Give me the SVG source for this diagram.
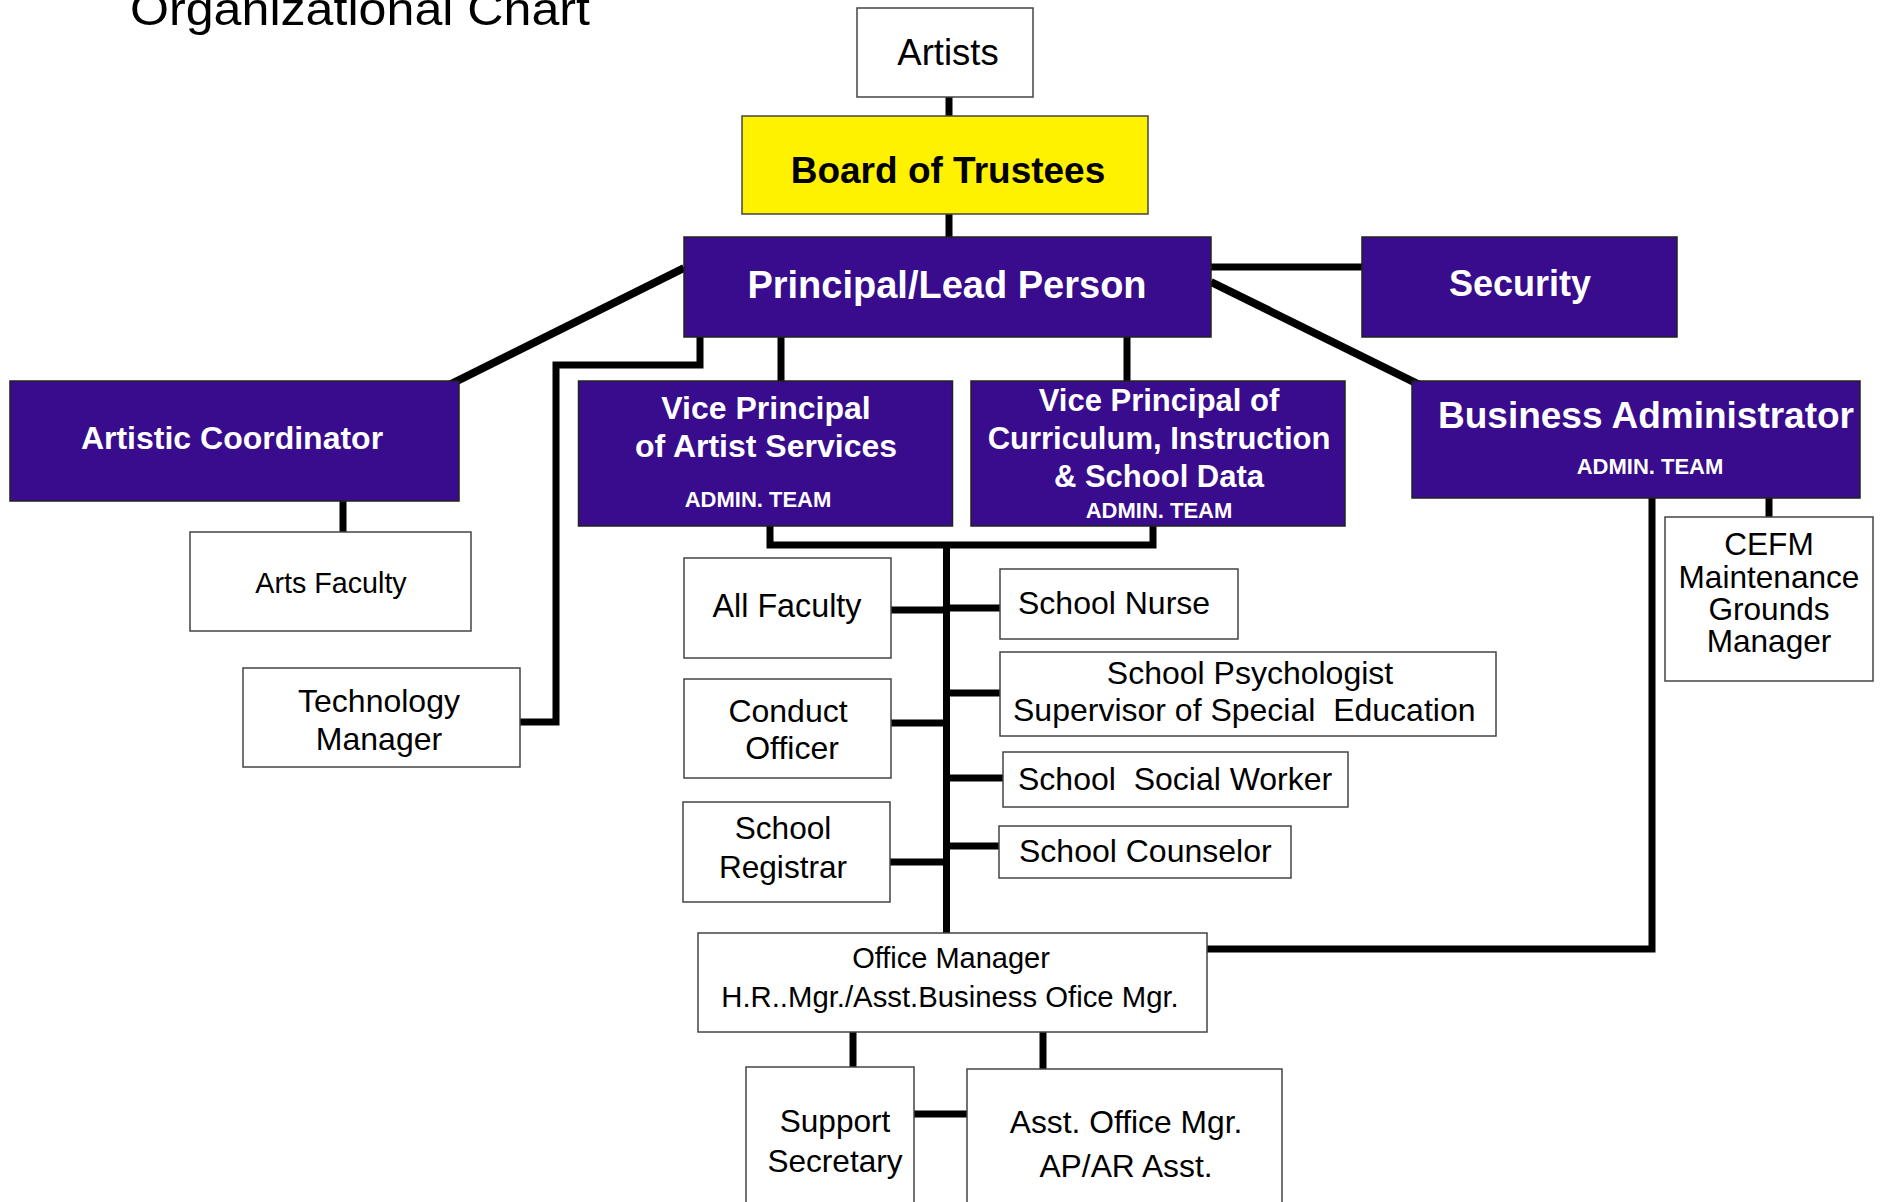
<svg xmlns="http://www.w3.org/2000/svg" width="1881" height="1202" viewBox="0 0 1881 1202">
<style>
.w{fill:#fff;stroke:#444;stroke-width:1.5}
.p{fill:#380C8C;stroke:#222;stroke-width:1.5}
.y{fill:#FFF200;stroke:#444;stroke-width:1.5}
.c{fill:none;stroke:#000;stroke-width:7;stroke-linecap:butt;stroke-linejoin:miter}
.d{fill:none;stroke:#000;stroke-width:8}
text{font-family:"Liberation Sans",Arial,sans-serif}
.t{fill:#000;text-anchor:middle}
.tl{fill:#000}
.b{font-weight:bold;fill:#fff;text-anchor:middle}
.a{font-weight:bold;fill:#fff;text-anchor:middle}
</style>
<rect width="1881" height="1202" fill="#fff"/>
<text x="130" y="25" font-size="47" font-family="'Open Sans','Liberation Sans',sans-serif" font-weight="300" textLength="460" lengthAdjust="spacingAndGlyphs">Organizational Chart</text>
<g id="connectors">
<path class="c" d="M949 97V116"/>
<path class="c" d="M949 214V237"/>
<path class="c" d="M1211 267H1362"/>
<path class="d" d="M684 268L443 388"/>
<path class="d" d="M1211 282L1426 388"/>
<path class="c" d="M781 337V381"/>
<path class="c" d="M1127 337V381"/>
<path class="c" d="M700 337V365H556V722H520"/>
<path class="c" d="M343 501V532"/>
<path class="c" d="M770 525V545H1153V525"/>
<path class="c" d="M946.5 545V933"/>
<path class="c" d="M891 610H946"/>
<path class="c" d="M891 723H946"/>
<path class="c" d="M890 862H946"/>
<path class="c" d="M946 608H1000"/>
<path class="c" d="M946 693H1000"/>
<path class="c" d="M946 778H1003"/>
<path class="c" d="M946 846H999"/>
<path class="c" d="M1207 949H1652V498"/>
<path class="c" d="M1769 498V517"/>
<path class="c" d="M853 1032V1067"/>
<path class="c" d="M1043 1032V1069"/>
<path class="c" d="M914 1114H967"/>
</g>
<g id="artists"><rect class="w" x="857" y="8" width="176" height="89"/><text class="t" x="948" y="65" font-size="36.5">Artists</text></g>
<g id="board"><rect class="y" x="742" y="116" width="406" height="98"/><text x="948" y="183" font-size="37" font-weight="bold" text-anchor="middle" fill="#000">Board of Trustees</text></g>
<g id="principal"><rect class="p" x="684" y="237" width="527" height="100"/><text class="b" x="947" y="298" font-size="38">Principal/Lead Person</text></g>
<g id="security"><rect class="p" x="1362" y="237" width="315" height="100"/><text class="b" x="1520" y="296" font-size="36">Security</text></g>
<g id="artistic-coordinator"><rect class="p" x="10" y="381" width="449" height="120"/><text class="b" x="232" y="449" font-size="32">Artistic Coordinator</text></g>
<g id="vp-artist"><rect class="p" x="578.5" y="381" width="374" height="145"/><text class="b" x="766" y="419" font-size="32">Vice Principal</text><text class="b" x="766" y="457" font-size="32">of Artist Services</text><text class="a" x="758" y="507" font-size="22">ADMIN. TEAM</text></g>
<g id="vp-curriculum"><rect class="p" x="971" y="381" width="374" height="145"/><text class="b" x="1159" y="411" font-size="31">Vice Principal of</text><text class="b" x="1159" y="449" font-size="31">Curriculum, Instruction</text><text class="b" x="1159" y="487" font-size="31">&amp; School Data</text><text class="a" x="1159" y="518" font-size="22">ADMIN. TEAM</text></g>
<g id="business-admin"><rect class="p" x="1412" y="381" width="448" height="117"/><text class="b" x="1646" y="428" font-size="37">Business Administrator</text><text class="a" x="1650" y="474" font-size="22">ADMIN. TEAM</text></g>
<g id="arts-faculty"><rect class="w" x="190" y="532" width="281" height="99"/><text class="t" x="331" y="593" font-size="28.7">Arts Faculty</text></g>
<g id="technology-manager"><rect class="w" x="243" y="668" width="277" height="99"/><text class="t" x="379" y="712" font-size="32">Technology</text><text class="t" x="379" y="750" font-size="32">Manager</text></g>
<g id="all-faculty"><rect class="w" x="684" y="558" width="207" height="100"/><text class="t" x="787" y="617" font-size="32.3">All Faculty</text></g>
<g id="conduct-officer"><rect class="w" x="684" y="679" width="207" height="99"/><text class="t" x="788" y="722" font-size="32">Conduct</text><text class="t" x="792" y="759" font-size="32">Officer</text></g>
<g id="school-registrar"><rect class="w" x="683" y="802" width="207" height="100"/><text class="t" x="783" y="839" font-size="31.6">School</text><text class="t" x="783" y="878" font-size="31.6">Registrar</text></g>
<g id="school-nurse"><rect class="w" x="1000" y="569" width="238" height="70"/><text class="tl" x="1018" y="614" font-size="32">School Nurse</text></g>
<g id="school-psychologist"><rect class="w" x="1000" y="652" width="496" height="84"/><text class="t" x="1250" y="684" font-size="32">School Psychologist</text><text class="tl" x="1013" y="721" font-size="32" xml:space="preserve">Supervisor of Special  Education</text></g>
<g id="social-worker"><rect class="w" x="1003" y="752" width="345" height="55"/><text class="tl" x="1018" y="790" font-size="32" xml:space="preserve">School  Social Worker</text></g>
<g id="school-counselor"><rect class="w" x="999" y="826" width="292" height="52"/><text class="tl" x="1019" y="862" font-size="32">School Counselor</text></g>
<g id="cefm"><rect class="w" x="1665" y="517" width="208" height="164"/><text class="t" x="1769" y="555" font-size="31.6">CEFM</text><text class="t" x="1769" y="588" font-size="31.6">Maintenance</text><text class="t" x="1769" y="620" font-size="31.6">Grounds</text><text class="t" x="1769" y="652" font-size="31.6">Manager</text></g>
<g id="office-manager"><rect class="w" x="698" y="933" width="509" height="99"/><text class="t" x="951" y="968" font-size="29">Office Manager</text><text class="t" x="950" y="1007" font-size="29.3">H.R..Mgr./Asst.Business Ofice Mgr.</text></g>
<g id="support-secretary"><rect class="w" x="746" y="1067" width="168" height="150"/><text class="t" x="835" y="1132" font-size="31.6">Support</text><text class="t" x="835" y="1172" font-size="31.6">Secretary</text></g>
<g id="asst-office-mgr"><rect class="w" x="967" y="1069" width="315" height="150"/><text class="t" x="1126" y="1133" font-size="31.8">Asst. Office Mgr.</text><text class="t" x="1126" y="1177" font-size="31.8">AP/AR Asst.</text></g>
</svg>
